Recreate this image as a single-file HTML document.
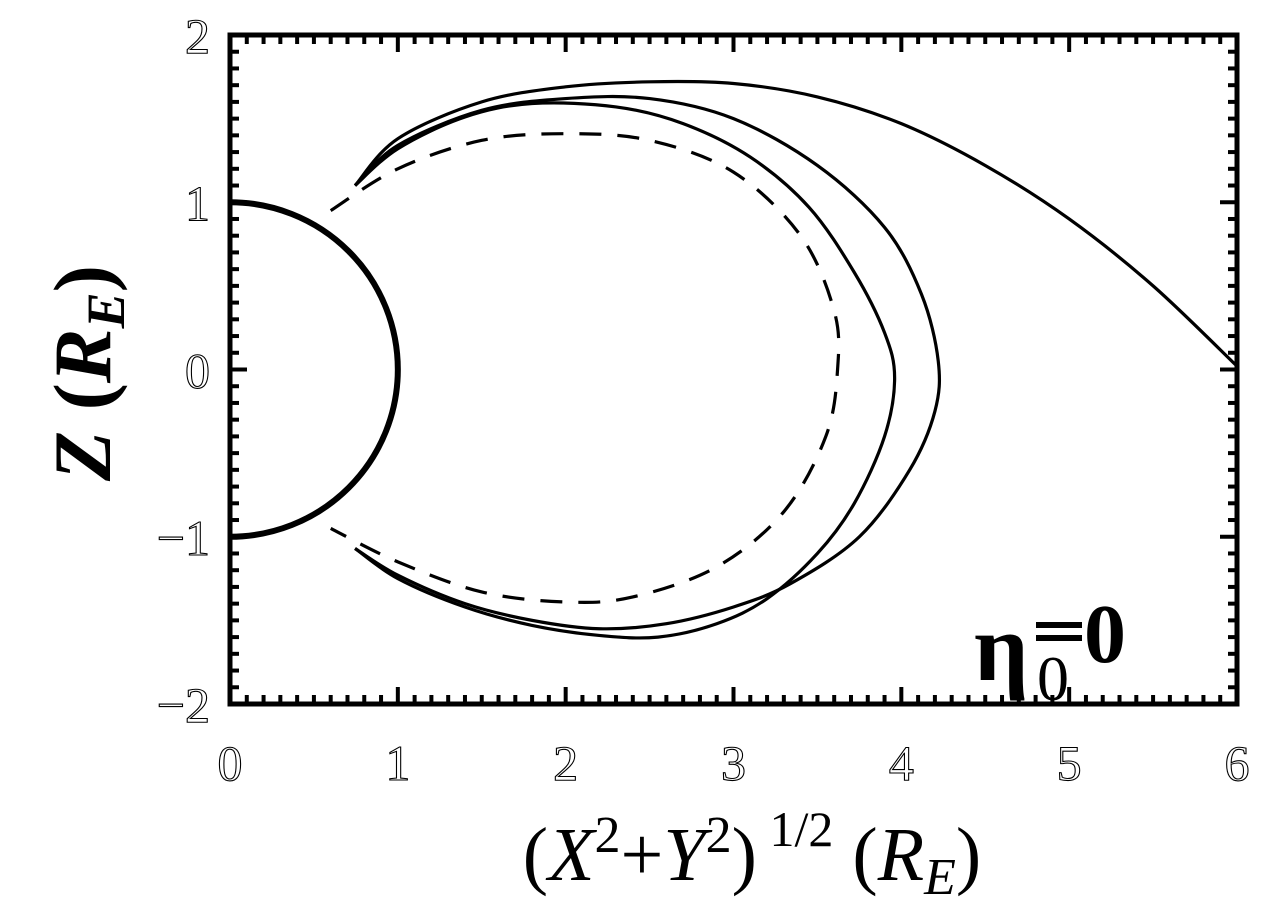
<!DOCTYPE html>
<html><head><meta charset="utf-8"><style>
html,body{margin:0;padding:0;background:#fff;}
svg{display:block;}
.tick{font-family:"Liberation Serif",serif;font-size:50px;fill:#fff;stroke:#000;stroke-width:1.1;}
</style></head><body>
<svg id="chart" width="1280" height="913" viewBox="0 0 1280 913" xmlns="http://www.w3.org/2000/svg">
<g id="marks"></g>
<g id="axes"></g>
<text transform="translate(110,373) rotate(-90)" text-anchor="middle" font-family="Liberation Serif,serif" font-weight="bold" font-size="82"><tspan font-style="italic">Z</tspan> (<tspan font-style="italic">R</tspan><tspan font-style="italic" font-size="54" dy="14">E</tspan><tspan dy="-14">)</tspan></text>
<text x="752" y="880" text-anchor="middle" font-family="Liberation Serif,serif" font-size="76">(<tspan font-style="italic">X</tspan><tspan font-size="52" dy="-28">2</tspan><tspan dy="28">+</tspan><tspan font-style="italic">Y</tspan><tspan font-size="52" dy="-28">2</tspan><tspan dy="28">)</tspan><tspan font-size="50" dy="-34"> 1/2</tspan><tspan dy="34"> (</tspan><tspan font-style="italic">R</tspan><tspan font-style="italic" font-size="52" dy="14">E</tspan><tspan dy="-14">)</tspan></text>
<text x="974" y="680" font-family="Liberation Serif,serif" font-weight="bold" font-size="96">η</text>
<text x="1037" y="700" font-family="Liberation Serif,serif" font-size="64">0</text>
<rect x="1036" y="622" width="46" height="6" fill="#000"/>
<rect x="1036" y="635" width="46" height="6" fill="#000"/>
<text x="1084" y="662" font-family="Liberation Serif,serif" font-weight="bold" font-size="84">0</text>
</svg>
<script>
const xTicks=[0,1,2,3,4,5,6];
const yTicks=[-2,-1,0,1,2];
const earthR=[1];
const line1X=[0.745,1.0,1.4,1.8,2.3,2.7,3.1,3.45,3.72,3.9,3.96,3.9,3.72,3.5,3.2,2.9,2.55,2.2,1.8,1.4,1.0,0.745];
const line1Z=[1.10,1.32,1.51,1.59,1.57,1.47,1.27,0.97,0.58,0.22,-0.05,-0.4,-0.8,-1.1,-1.37,-1.52,-1.6,-1.59,-1.53,-1.42,-1.25,-1.07];
const line2X=[0.745,1.0,1.5,2.0,2.5,3.0,3.5,3.9,4.12,4.22,4.2,4.05,3.75,3.34,3.0,2.6,2.2,1.8,1.4,1.0,0.745];
const line2Z=[1.10,1.34,1.55,1.62,1.62,1.5,1.22,0.85,0.45,0.05,-0.25,-0.6,-1.0,-1.28,-1.42,-1.52,-1.55,-1.5,-1.4,-1.23,-1.07];
const line3X=[0.745,1.0,1.5,2.0,2.5,3.0,3.5,4.0,4.5,5.0,5.5,6.0];
const line3Z=[1.10,1.38,1.6,1.69,1.72,1.71,1.63,1.47,1.22,0.9,0.5,0.02];
const dashX=[0.6,1.0,1.5,2.0,2.5,3.0,3.4,3.6,3.62,3.55,3.3,2.9,2.4,2.0,1.5,1.0,0.6];
const dashZ=[0.95,1.2,1.37,1.41,1.37,1.18,0.8,0.35,0,-0.4,-0.85,-1.18,-1.36,-1.39,-1.33,-1.15,-0.95];

const L=230,R=1237,T=35,B=704;
const sx=v=>L+(v-0)/(6-0)*(R-L);
const sy=v=>B-(v+2)/4*(B-T);
const NS="http://www.w3.org/2000/svg";
const marks=document.getElementById('marks'),axes=document.getElementById('axes');
function mk(tag,attrs,parent){const e=document.createElementNS(NS,tag);for(const k in attrs)e.setAttribute(k,attrs[k]);parent.appendChild(e);return e;}
function smooth(xs,zs){
  const p=xs.map((x,i)=>[sx(x),sy(zs[i])]);
  let d=`M${p[0][0]},${p[0][1]}`;
  for(let i=0;i<p.length-1;i++){
    const p0=p[i-1]||p[i],p1=p[i],p2=p[i+1],p3=p[i+2]||p[i+1];
    const c1=[p1[0]+(p2[0]-p0[0])/6,p1[1]+(p2[1]-p0[1])/6];
    const c2=[p2[0]-(p3[0]-p1[0])/6,p2[1]-(p3[1]-p1[1])/6];
    d+=` C${c1[0]},${c1[1]} ${c2[0]},${c2[1]} ${p2[0]},${p2[1]}`;
  }
  return d;
}
const r=earthR[0];
const earth=mk('path',{d:`M${sx(0)},${sy(r)} A${sx(r)-sx(0)},${sy(0)-sy(r)} 0 0 1 ${sx(0)},${sy(-r)}`,fill:'none',stroke:'#000','stroke-width':6},marks);


const series=[[line1X,line1Z,'field-line-1',null],[line2X,line2Z,'field-line-2',null],[line3X,line3Z,'field-line-3',null],[dashX,dashZ,'dashed-dipole-line','22,16']];
series.forEach(s=>{
  const a={d:smooth(s[0],s[1]),fill:'none',stroke:'#000','stroke-width':3.2};
  if(s[3])a['stroke-dasharray']=s[3];
  const e=mk('path',a,marks);
  
  
});
const fr=mk('rect',{x:L,y:T,width:R-L,height:B-T,fill:'none',stroke:'#000','stroke-width':5},axes);


for(let i=0;i<=60;i++){
  const v=i/10,x=sx(v),len=(i%10===0)?17:9;
  mk('line',{x1:x,y1:B,x2:x,y2:B-len,stroke:'#000','stroke-width':4},axes);
  mk('line',{x1:x,y1:T,x2:x,y2:T+len,stroke:'#000','stroke-width':4},axes);
}
for(let i=0;i<=40;i++){
  const v=-2+i/10,y=sy(v),len=(i%10===0)?17:9;
  mk('line',{x1:L,y1:y,x2:L+len,y2:y,stroke:'#000','stroke-width':4},axes);
  mk('line',{x1:R,y1:y,x2:R-len,y2:y,stroke:'#000','stroke-width':4},axes);
}
xTicks.forEach(v=>{
  const t=mk('text',{x:sx(v),y:780,'text-anchor':'middle',class:'tick'},axes);
  t.textContent=String(v);
  
  
});
yTicks.forEach(v=>{
  const t=mk('text',{x:210,y:sy(v)+18,'text-anchor':'end',class:'tick'},axes);
  t.textContent=v<0?'\u2212'+Math.abs(v):String(v);
  
  
});
</script>
</body></html>
